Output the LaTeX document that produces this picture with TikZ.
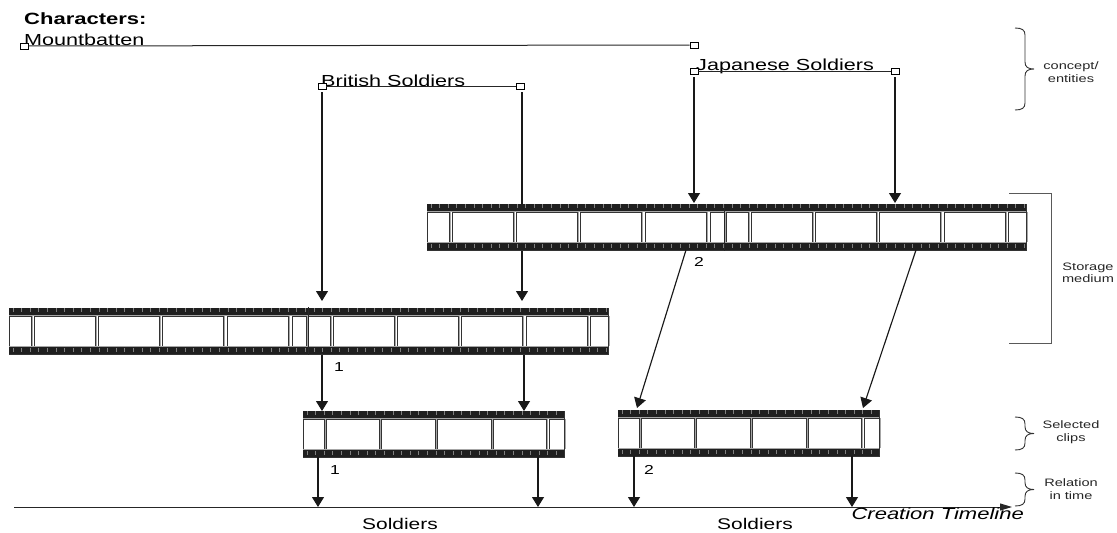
\documentclass[tikz,border=0pt]{standalone}
\usepackage{fontspec}
\setmainfont{Liberation Sans}[FakeStretch=1.35]
\usetikzlibrary{arrows.meta,positioning,calc}
\tikzset{
    fmHandle/.style={rectangle,draw=black,fill=white,line width=0.9pt,minimum width=8pt,minimum height=6pt,inner sep=0pt},
    fmBar/.style={line width=1pt,black!85},
    fmArrow/.style={-{Triangle[length=10pt,width=12pt]},line width=1.15pt,black!90},
    fmStrip/.style={rectangle,draw=black!80,fill=white,line width=0.9pt,anchor=north west,inner sep=0pt,minimum height=46pt},
    fmBand/.style={fill=black!88},
    fmPerf/.style={line width=0.7pt,black!50},
    fmEdge/.style={line width=1.2pt,black!35},
    fmFrame/.style={draw=black!80,fill=white,line width=0.9pt},
    fmSeam/.style={line width=1pt,black!85},
    fmBrace/.style={line width=0.9pt,black!80},
    fmBracket/.style={line width=1pt,black!65},
    fmName/.style={font=\fontsize{16}{18}\selectfont,anchor=base west,inner sep=0pt},
    fmNote/.style={font=\fontsize{10.8}{12.5}\selectfont,align=center,black!85},
    fmMark/.style={font=\fontsize{13}{15}\selectfont}
}
\newcommand{\longFrames}{0/22,25/86,89/150,153/214,218/279,283/297,299/321,324/385,388/449,452/513,517/578,581/599}
\newcommand{\shortFrames}{0/21,23/76,78/132,134/188,190/243,246/261}
% name, left, top, width, frames
\newcommand{\filmstrip}[5]{
    \node[fmStrip,minimum width=#4pt] (#1) at (#2,#3) {};
    \fill[fmBand] (#2,#3) rectangle ++(#4,7);
    \fill[fmBand] (#2,#3+39) rectangle ++(#4,7);
    \foreach \perf in {4,12.6,...,#4} {
        \draw[fmPerf] ({#2+\perf},#3) -- ++(0,4);
        \draw[fmPerf] ({#2+\perf},#3+40) -- ++(0,4);
    }
    \foreach \fa/\fb in #5 {
        \draw[fmEdge] ({#2+\fb+1.2},#3+8) -- ({#2+\fb+1.2},#3+38);
        \draw[fmFrame] ({#2+\fa},#3+8) rectangle ({#2+\fb},#3+38);
    }
    \draw[fmEdge] (#2,#3+7.6) -- ++(#4,0);
    \draw[fmEdge] (#2,#3+38.6) -- ++(#4,0);
}
% left, top, bottom
\newcommand{\sidebrace}[3]{
    \draw[fmBrace] (#1,#2) .. controls (#1+7,#2) and (#1+10,#2+2) .. (#1+10,#2+7)
        -- (#1+10,{(#2+#3)/2-7}) .. controls (#1+10,{(#2+#3)/2-2}) and (#1+13,{(#2+#3)/2}) .. (#1+19,{(#2+#3)/2})
        .. controls (#1+13,{(#2+#3)/2}) and (#1+10,{(#2+#3)/2+2}) .. (#1+10,{(#2+#3)/2+7})
        -- (#1+10,#3-7) .. controls (#1+10,#3-2) and (#1+7,#3) .. (#1,#3);
}
\begin{document}
\begin{tikzpicture}[x=1pt,y=-1pt]
    \useasboundingbox (0,0) rectangle (1117,533);

    % Characters and their handles
    \node[font=\fontsize{16.3}{18}\selectfont\bfseries,anchor=base west,inner sep=0pt] (charTitle) at (24,24) {Characters:};
    \node[fmName] (nameMount) at (24,45) {Mountbatten};
    \node[fmName] (nameBrit) at (321,86) {British Soldiers};
    \node[fmName] (nameJap) at (696,70) {Japanese Soldiers};

    \node[fmHandle] (mountL) at (24,46) {};
    \node[fmHandle] (mountR) at (694,45) {};
    \node[fmHandle] (britL) at (322,86) {};
    \node[fmHandle] (britR) at (520,86) {};
    \node[fmHandle] (japL) at (694,71) {};
    \node[fmHandle] (japR) at (895,71) {};
    \draw[fmBar] (mountL) -- (mountR);
    \draw[fmBar] (britL) -- (britR);
    \draw[fmBar] (japL) -- (japR);

    % Storage strips
    \filmstrip{stripB}{9}{308}{599}{\longFrames}
    \draw[fmSeam] (308,307) -- (308,355);
    \coordinate (britDrop) at (522,92);
    \draw[fmArrow,shorten <=3pt,shorten >=7pt] (britL) -- (britL |- stripB.north);
    \draw[fmArrow,shorten >=7pt] (britDrop) -- (britDrop |- stripB.north);
    \filmstrip{stripA}{427}{204}{599}{\longFrames}
    \draw[fmSeam] (724,204) -- (724,251);
    \draw[fmArrow,shorten <=3pt,shorten >=1pt] (japL) -- (japL |- stripA.north);
    \draw[fmArrow,shorten <=3pt,shorten >=1pt] (japR) -- (japR |- stripA.north);

    % Selected clips
    \filmstrip{clipOne}{303}{411}{261}{\shortFrames}
    \filmstrip{clipTwo}{618}{410}{261}{\shortFrames}
    \coordinate (cutOneL) at (322,355);
    \coordinate (cutOneR) at (524,355);
    \coordinate (cutTwoL) at (686,250);
    \coordinate (cutTwoR) at (916,250);
    \coordinate (clipTwoL) at (637,408);
    \coordinate (clipTwoR) at (863,408);
    \draw[fmArrow] (cutOneL) -- (cutOneL |- clipOne.north);
    \draw[fmArrow] (cutOneR) -- (cutOneR |- clipOne.north);
    \draw[fmArrow] (cutTwoL) -- (clipTwoL);
    \draw[fmArrow] (cutTwoR) -- (clipTwoR);

    % Timeline
    \coordinate (timeStart) at (14,507);
    \coordinate (timeEnd) at (1012,507);
    \draw[-{Triangle[length=12pt,width=7pt]},line width=1pt,black!85] (timeStart) -- (timeEnd);
    \coordinate (useOneL) at (318,457);
    \coordinate (useOneR) at (538,457);
    \coordinate (useTwoL) at (634,456);
    \coordinate (useTwoR) at (852,456);
    \draw[fmArrow] (useOneL) -- (useOneL |- timeEnd);
    \draw[fmArrow] (useOneR) -- (useOneR |- timeEnd);
    \draw[fmArrow] (useTwoL) -- (useTwoL |- timeEnd);
    \draw[fmArrow] (useTwoR) -- (useTwoR |- timeEnd);

    % Labels
    \node[fmMark] (markA) at (339,367) {1};
    \node[fmMark] (markB) at (335,470) {1};
    \node[fmMark] (markC) at (699,262) {2};
    \node[fmMark] (markD) at (649,470) {2};
    \node[font=\fontsize{15.5}{18}\selectfont] (soldA) at (400,524) {Soldiers};
    \node[font=\fontsize{15.5}{18}\selectfont] (soldB) at (755,524) {Soldiers};
    \node[font=\fontsize{16.3}{18}\selectfont\itshape,anchor=base east,inner sep=0pt] (timeName) at (1024,519) {Creation Timeline};

    % Side notes
    \sidebrace{1015}{28}{110}
    \sidebrace{1015}{417}{450}
    \sidebrace{1015}{473}{506}
    \draw[fmBracket] (1009,193) -- (1051,193) -- (1051,343) -- (1009,343);
    \node[fmNote] (noteConcept) at (1071,72) {concept/\\entities};
    \node[fmNote] (noteStore) at (1088,273) {Storage\\medium};
    \node[fmNote] (noteClips) at (1071,432) {Selected\\clips};
    \node[fmNote] (noteTime) at (1071,489) {Relation\\in time};
\end{tikzpicture}
\end{document}
